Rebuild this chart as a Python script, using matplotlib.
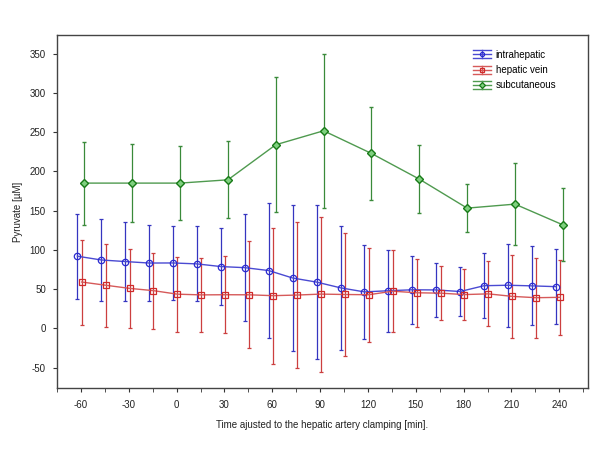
import matplotlib
matplotlib.use("Agg")
import matplotlib.pyplot as plt
import numpy as np
from matplotlib.legend_handler import HandlerBase
from matplotlib.lines import Line2D
from matplotlib.container import ErrorbarContainer

plt.rcParams['font.family'] = ['Liberation Sans', 'DejaVu Sans']
plt.rcParams['axes.unicode_minus'] = False

# ---- data ----
t_fine = [-60, -45, -30, -15, 0, 15, 30, 45, 60, 75, 90, 105, 120, 135, 150, 165, 180, 195, 210, 225, 240]
t_coarse = [-60, -30, 0, 30, 60, 90, 120, 150, 180, 210, 240]

intra_mean = [92.0, 87.2, 85.2, 83.3, 83.4, 82.2, 78.8, 77.4, 73.7, 64.2, 59.0, 51.7, 46.5, 48.0, 49.2, 49.0, 47.0, 54.4, 55.0, 54.2, 53.2]
intra_sd = [54.1, 52.3, 50.3, 48.2, 47.5, 47.7, 49.2, 68.6, 86.3, 92.9, 98.5, 78.7, 59.6, 52.0, 43.3, 34.7, 31.3, 41.3, 53.0, 50.3, 47.6]

vein_mean = [59.1, 55.0, 51.0, 48.1, 43.6, 42.7, 42.9, 42.8, 41.7, 42.5, 43.7, 43.2, 42.9, 47.4, 45.4, 44.9, 43.1, 44.0, 40.8, 39.1, 39.6]
vein_sd = [54.2, 52.7, 50.5, 48.4, 47.8, 47.3, 49.0, 68.0, 86.8, 93.3, 98.8, 78.5, 59.7, 52.0, 43.3, 34.8, 32.0, 41.4, 52.7, 50.8, 48.0]

subc_mean = [185.2, 185.2, 185.2, 189.4, 234.1, 251.9, 223.0, 190.3, 153.3, 158.4, 132.0]
subc_sd = [53.0, 49.5, 47.4, 48.9, 86.0, 98.0, 59.5, 43.0, 31.0, 52.0, 46.5]

labels = ['intrahepatic', 'hepatic vein', 'subcutaneous']
xticks_major = [-60, -30, 0, 30, 60, 90, 120, 150, 180, 210, 240]
yticks_major = [-50, 0, 50, 100, 150, 200, 250, 300, 350]


class HandlerIBeam(HandlerBase):
    def create_artists(self, legend, orig_handle, xdescent, ydescent, width, height, fontsize, trans):
        line = orig_handle.lines[0]
        col = line.get_color()
        x0 = -xdescent
        x1 = x0 + width
        xc = (x0 + x1) / 2
        yc = -ydescent + height / 2
        hh = height * 0.58
        arts = [
            Line2D([x0, x1], [yc, yc], color=col, lw=1.0),
            Line2D([x0, x1], [yc + hh, yc + hh], color=col, lw=1.0),
            Line2D([x0, x1], [yc - hh, yc - hh], color=col, lw=1.0),
            Line2D([xc, xc], [yc - hh, yc + hh], color=col, lw=1.0),
            Line2D([xc], [yc], marker=line.get_marker(), ms=3.0, mfc=line.get_markerfacecolor(),
                   mec=line.get_markeredgecolor(), mew=0.9, ls='none'),
        ]
        for a in arts:
            a.set_transform(trans)
        return arts


# ---- figure ----
fig = plt.figure(figsize=(6.05, 4.54), dpi=100)
ax = fig.add_axes([57/605, 1-388/454, (588-57)/605, (388-35)/454])

fs = 7

e1 = ax.errorbar(np.array(t_fine) - 2.2, intra_mean, yerr=intra_sd, color='#4a4ad2',
                 ecolor='#3535c0', elinewidth=0.9, capsize=1.3, capthick=0.9, lw=1.0,
                 marker='o', ms=4.6, mfc='none', mec='#2a2ad0', mew=0.9, label=labels[0], zorder=3)
e2 = ax.errorbar(np.array(t_fine) + 0.5, vein_mean, yerr=vein_sd, color='#d65a5a',
                 ecolor='#cc3f3f', elinewidth=0.9, capsize=1.3, capthick=0.9, lw=1.0,
                 marker='s', ms=4.4, mfc='none', mec='#d02a2a', mew=0.9, label=labels[1], zorder=3)
e3 = ax.errorbar(np.array(t_coarse) + 2.2, subc_mean, yerr=subc_sd, color='#4f9a4f',
                 ecolor='#3a8a3a', elinewidth=0.9, capsize=1.3, capthick=0.9, lw=1.0,
                 marker='D', ms=3.8, mfc='#7fd07f', mec='#177a17', mew=1.0, label=labels[2], zorder=3)

ax.set_xlim(-75, 258)
ax.set_ylim(-76, 374)
ax.set_xticks(xticks_major)
ax.set_xticks(np.arange(-75, 258, 15), minor=True)
ax.set_yticks(yticks_major)
ax.tick_params(axis='both', which='both', direction='out', labelsize=fs, colors='#333333')
ax.tick_params(axis='x', which='major', length=3, pad=6)
ax.tick_params(axis='x', which='minor', length=3)
ax.tick_params(axis='y', which='major', length=3, pad=5)
for lab in ax.get_xticklabels() + ax.get_yticklabels():
    lab.set_color('#222222')
for s in ax.spines.values():
    s.set_color('#444444')
    s.set_linewidth(1.0)

ax.set_xlabel('Time ajusted to the hepatic artery clamping [min].', fontsize=fs, labelpad=7, color='#222222')
ax.set_ylabel('Pyruvate [\u00b5M]', fontsize=fs, labelpad=5, color='#222222')

leg = ax.legend([e1, e2, e3], labels, loc='upper left', bbox_to_anchor=(464/605, 1-41/454),
                bbox_transform=fig.transFigure, handler_map={ErrorbarContainer: HandlerIBeam()},
                frameon=False, fontsize=fs, handlelength=1.9, handletextpad=0.45,
                labelspacing=0.55, borderpad=0.4)

fig.savefig('out.png', dpi=100)
